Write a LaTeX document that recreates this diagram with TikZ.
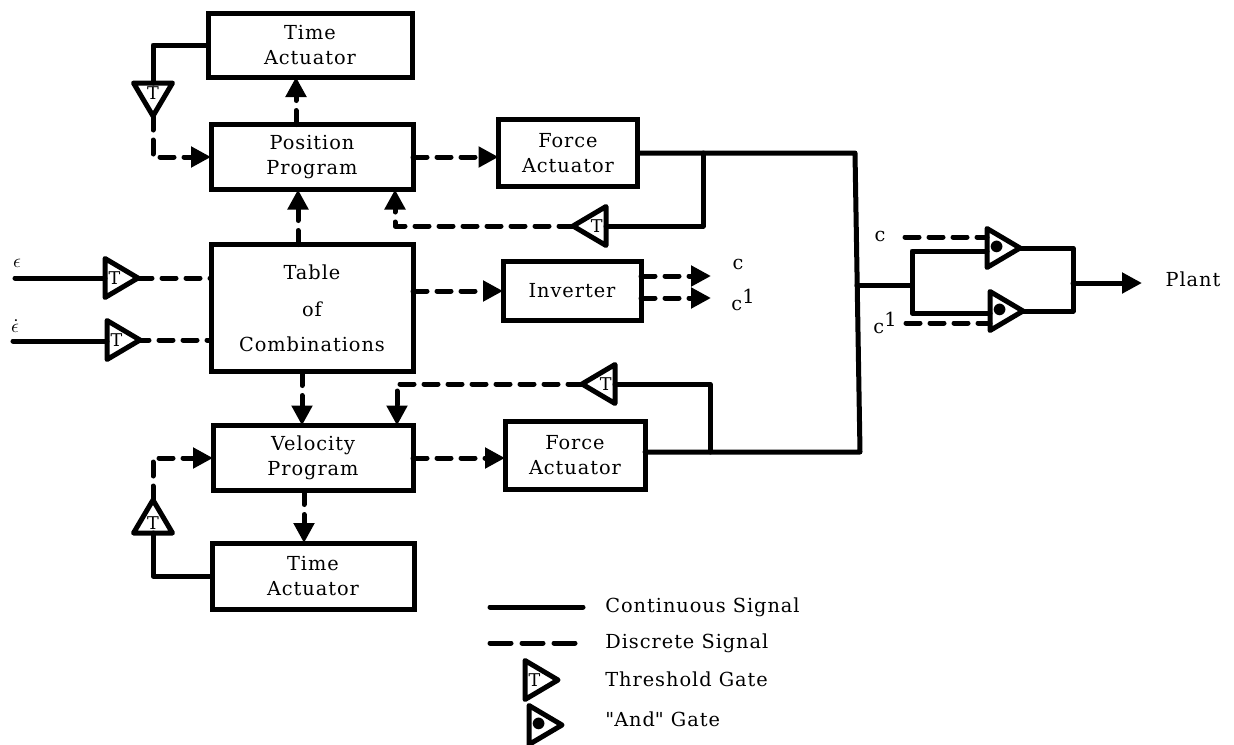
\documentclass[tikz,border=0pt]{standalone}
\usepackage{fontspec}
\setmainfont[LetterSpace=5]{DejaVu Serif}
\usetikzlibrary{arrows.meta,shapes.geometric}
\newcommand{\cone}{c\raisebox{.7ex}{1}}

\begin{document}
\begin{tikzpicture}[
  x=0.2mm, y=-0.2mm,
  font=\fontsize{11}{14}\selectfont,
  block/.style={draw=black, line width=0.1cm, align=center, inner sep=0pt, outer sep=0pt},
  gate/.style={draw=black, line width=0.1cm, isosceles triangle, isosceles triangle stretches,
               minimum width=0.78cm, minimum height=0.66cm, inner sep=0pt, outer sep=0pt,
               line join=round, font=\fontsize{10}{10}\selectfont},
  lbl/.style={inner sep=0pt, anchor=base west},
  cont/.style={draw=black, line width=0.1cm, line cap=round, line join=round},
  disc/.style={cont, dash pattern=on 0.28cm off 0.2cm},
  arr/.style={-{Triangle[length=0.4cm,width=0.4cm]}},
  dot/.style={font=\fontsize{16}{16}\selectfont}
]
\useasboundingbox (0,0) rectangle (1234,744);
% boxes
\node[block, minimum width=4.08cm, minimum height=1.28cm] (timea) at (310,45) {Time\\Actuator};
\node[block, minimum width=4.04cm, minimum height=1.30cm] (posn) at (312,157) {Position\\Program};
\node[block, minimum width=4.04cm, minimum height=2.54cm] (tabl) at (312,308) {Table\\[0.26cm]of\\[0.2cm]Combinations};
\node[block, minimum width=4.00cm, minimum height=1.30cm] (velo) at (313,458) {Velocity\\Program};
\node[block, minimum width=4.04cm, minimum height=1.32cm] (timeb) at (313,576) {Time\\Actuator};
\node[block, minimum width=2.78cm, minimum height=1.34cm] (forcea) at (568,153) {Force\\Actuator};
\node[block, minimum width=2.76cm, minimum height=1.18cm] (invt) at (572,291) {Inverter};
\node[block, minimum width=2.80cm, minimum height=1.36cm] (forceb) at (575,455) {Force\\Actuator};
% gates
\node[gate, shape border rotate=270, anchor=apex] (gtop) at (153,116) {T};
\node[gate, shape border rotate=90, anchor=apex] (gbot) at (153,500) {T};
\node[gate, anchor=apex] (geps) at (138,278) {T};
\node[gate, anchor=apex] (gdot) at (140,340) {T};
\node[gate, shape border rotate=180, anchor=apex] (gfa) at (573,226) {T};
\node[gate, shape border rotate=180, anchor=apex] (gfb) at (582,384) {T};
\node[gate, dot, anchor=apex] (anda) at (1020,248) {$\bullet$};
\node[gate, dot, anchor=apex] (andb) at (1023,311) {$\bullet$};
% labels
\node (eps) at (17,263) {$\epsilon$};
\node (epsd) at (15,326) {$\dot\epsilon$};
\node (cinv) at (738,264) {c};
\node (cinvb) at (743,300) {\cone};
\node (cand) at (880,236) {c};
\node (candb) at (885,323) {\cone};
\node (plant) at (1193,279) {Plant};
% junctions
\coordinate (epsl) at (15,278);
\coordinate (epsdl) at (13,341);
\coordinate (bustop) at (855,153);
\coordinate (busbot) at (860,452);
\coordinate (busmid) at (857,285);
\coordinate (spl) at (912,285);
\coordinate (mrg) at (1073,283);
\coordinate (outp) at (1142,283);
\coordinate (tapa) at (703,153);
\coordinate (tapb) at (710,452);
\coordinate (ca) at (711,276);
\coordinate (cb) at (711,298);
\coordinate (cda) at (905,237);
\coordinate (cdb) at (906,323);
% continuous
\draw[cont] (timea.west) -| (gtop.lower side);
\draw[cont] (timeb.west) -| (gbot.lower side);
\draw[cont] (epsl) -- (epsl -| geps.lower side);
\draw[cont] (epsdl) -- (epsdl -| gdot.lower side);
\draw[cont] (forcea.east) -- (bustop) -- (busbot) -- (busbot -| forceb.east);
\draw[cont] (tapa) |- (gfa.lower side);
\draw[cont] (tapb) |- (gfb.lower side);
\draw[cont] (busmid) -- (spl);
\draw[cont] (anda.west |- 0,251) -- (912,251) -- (912,313) -- (andb.west |- 0,313);
\draw[cont] (anda.apex) -- (1073,248) -- (1073,311) -- (andb.apex);
\draw[cont, arr] (mrg) -- (outp);
% discrete
\draw[disc, arr] (gtop.apex) |- (posn.west);
\draw[disc, arr] (gbot.apex) |- (velo.west);
\draw[disc] (geps.apex) -- (geps.apex -| tabl.west);
\draw[disc, dash phase=0.1cm] (gdot.apex) -- (gdot.apex -| tabl.west);
\draw[disc, arr] (posn.north -| 296,0) -- (timea.south -| 296,0);
\draw[disc, arr] (tabl.north -| 298,0) -- (posn.south -| 298,0);
\draw[disc, arr] (tabl.south -| 302,0) -- (velo.north -| 302,0);
\draw[disc, arr] (velo.south -| 304,0) -- (timeb.north -| 304,0);
\draw[disc, arr] (gfa.apex) -| (posn.south -| 395,0);
\draw[disc, arr] (gfb.apex) -| (velo.north -| 397,0);
\draw[disc, arr] (posn.east) -- (posn.east -| forcea.west);
\draw[disc, arr] (tabl.east |- invt.west) -- (invt.west);
\draw[disc, arr] (velo.east) -- (velo.east -| forceb.west);
\draw[disc, arr] (invt.east |- ca) -- (ca);
\draw[disc, arr] (invt.east |- cb) -- (cb);
\draw[disc] (cda) -- (cda -| anda.lower side);
\draw[disc] (cdb) -- (cdb -| andb.lower side);
% legend
\coordinate (lca) at (490,607);
\coordinate (lcb) at (583,607);
\coordinate (lda) at (490,643);
\coordinate (ldb) at (583,643);
\draw[cont] (lca) -- (lcb);
\draw[disc, dash pattern=on 0.42cm off 0.22cm] (lda) -- (ldb);
\node[gate, anchor=apex] (lgt) at (558,680) {T};
\node[gate, dot, anchor=apex] (lga) at (562,725) {$\bullet$};
\node[lbl] (ltc) at (605,612) {Continuous Signal};
\node[lbl] (ltd) at (605,648) {Discrete Signal};
\node[lbl] (ltt) at (605,686) {Threshold Gate};
\node[lbl] (lta) at (605,726) {\textquotedbl And\textquotedbl{} Gate};
\end{tikzpicture}
\end{document}
